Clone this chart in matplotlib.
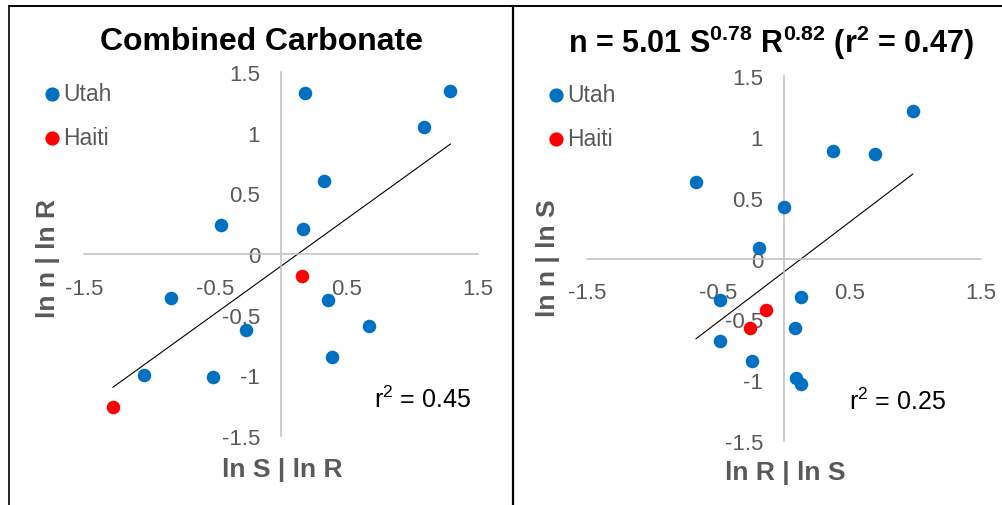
import matplotlib.pyplot as plt
from matplotlib.lines import Line2D
import numpy as np

plt.rcParams['font.family'] = ['Liberation Sans', 'DejaVu Sans']
plt.rcParams['mathtext.fontset'] = 'custom'
plt.rcParams['mathtext.rm'] = 'Liberation Sans'
plt.rcParams['mathtext.bf'] = 'Liberation Sans:bold'
plt.rcParams['mathtext.it'] = 'Liberation Sans:italic'

# left panel: ln n | ln R  vs  ln S | ln R
left_utah_x = [0.18, 1.29, 1.09, 0.33, -0.46, 0.17, -0.84, 0.36, -0.27, 0.67, 0.39, -1.04, -0.52]
left_utah_y = [1.33, 1.34, 1.05, 0.60, 0.24, 0.21, -0.36, -0.38, -0.63, -0.59, -0.85, -1.00, -1.01]
left_haiti_x = [0.16, -1.28]
left_haiti_y = [-0.18, -1.26]
left_fit = (0.78, -0.10)        # slope, intercept
left_r2 = 0.45

# right panel: ln n | ln S  vs  ln R | ln S
right_utah_x = [0.98, 0.37, 0.69, -0.67, 0.00, -0.19, -0.49, 0.13, 0.08, -0.49, -0.24, 0.09, 0.13]
right_utah_y = [1.21, 0.88, 0.86, 0.63, 0.42, 0.09, -0.34, -0.32, -0.57, -0.68, -0.84, -0.98, -1.03]
right_haiti_x = [-0.14, -0.26]
right_haiti_y = [-0.42, -0.57]
right_fit = (0.82, -0.11)
right_r2 = 0.25

x_ticks = [-1.5, -0.5, 0.5, 1.5]
y_ticks = [1.5, 1, 0.5, 0, -0.5, -1, -1.5]

W, H = 1003, 506
BLUE = '#0070C0'
RED = '#FF0000'
GRAY = '#595959'

fig = plt.figure(figsize=(W / 100, H / 100), dpi=100)


def px(x, y):
    # pixel (from top-left) -> figure fraction
    return x / W, 1 - y / H


def panel(rect, ux, uy, hx, hy, fit):
    ax = fig.add_axes(rect)
    ax.set_xlim(-1.5, 1.5)
    ax.set_ylim(-1.5, 1.5)
    for s in ['top', 'right']:
        ax.spines[s].set_visible(False)
    for s in ['left', 'bottom']:
        ax.spines[s].set_position(('data', 0))
        ax.spines[s].set_color('#BFBFBF')
        ax.spines[s].set_linewidth(1.1)
    ax.set_xticks(x_ticks)
    ax.set_xticklabels(['{:g}'.format(v) for v in x_ticks])
    ax.set_yticks(y_ticks)
    ax.set_yticklabels(['{:g}'.format(v) for v in y_ticks])
    ax.tick_params(axis='x', length=0, pad=17, labelsize=16, labelcolor=GRAY)
    ax.tick_params(axis='y', length=0, pad=15, labelsize=16, labelcolor=GRAY)
    ax.patch.set_visible(False)

    allx = np.array(ux + hx)
    xs = np.array([allx.min(), allx.max()])
    ax.plot(xs, fit[0] * xs + fit[1], color='black', lw=0.8, zorder=2)
    ax.scatter(ux, uy, s=95, color=BLUE, lw=0, label='Utah', zorder=3, clip_on=False)
    ax.scatter(hx, hy, s=95, color=RED, lw=0, label='Haiti', zorder=3, clip_on=False)
    return ax


axL = panel([84 / W, 69 / H, 394 / W, 364 / H],
            left_utah_x, left_utah_y, left_haiti_x, left_haiti_y, left_fit)
axR = panel([587 / W, 64 / H, 394 / W, 365 / H],
            right_utah_x, right_utah_y, right_haiti_x, right_haiti_y, right_fit)

# legends
for ax, lx, ly in [(axL, 45, 83), (axR, 549, 84)]:
    ax.legend(loc='upper left', bbox_to_anchor=px(lx, ly), bbox_transform=fig.transFigure,
              frameon=False, fontsize=16.5, labelcolor=GRAY, handlelength=0.6,
              handletextpad=0.19, labelspacing=0.9, borderpad=0, borderaxespad=0,
              markerscale=1.05)

# titles
fig.text(*px(262, 42), 'Combined Carbonate', ha='center', va='center',
         fontsize=23, fontweight='bold')
fig.text(*px(771, 43),
         r'n = 5.01 S$^{\mathbf{0.78}}$ R$^{\mathbf{0.82}}$ (r$^{\mathbf{2}}$ = 0.47)',
         ha='center', va='center', fontsize=22, fontweight='bold')

# axis titles
fig.text(*px(282, 470), 'ln S | ln R', ha='center', va='center',
         fontsize=19, fontweight='bold', color=GRAY)
fig.text(*px(48, 258), 'ln n | ln R', ha='center', va='center', rotation=90,
         fontsize=19, fontweight='bold', color=GRAY)
fig.text(*px(785, 473), 'ln R | ln S', ha='center', va='center',
         fontsize=19, fontweight='bold', color=GRAY)
fig.text(*px(548, 258), 'ln n | ln S', ha='center', va='center', rotation=90,
         fontsize=19, fontweight='bold', color=GRAY)

# r2 labels
fig.text(*px(423, 400), r'r$^2$ = {:.2f}'.format(left_r2), ha='center', va='center', fontsize=18)
fig.text(*px(898, 402), r'r$^2$ = {:.2f}'.format(right_r2), ha='center', va='center', fontsize=18)

# panel borders
def fline(x0, y0, x1, y1, lw):
    a, b = px(x0, y0)
    c, d = px(x1, y1)
    fig.add_artist(Line2D([a, c], [b, d], color='black', lw=lw, transform=fig.transFigure))

fline(9.5, 6.5, 1003, 6.5, 1.4)
fline(9.5, 6.5, 9.5, 506, 1.2)
fline(512.8, 6.5, 512.8, 506, 1.6)

fig.savefig('out.png', dpi=100)
